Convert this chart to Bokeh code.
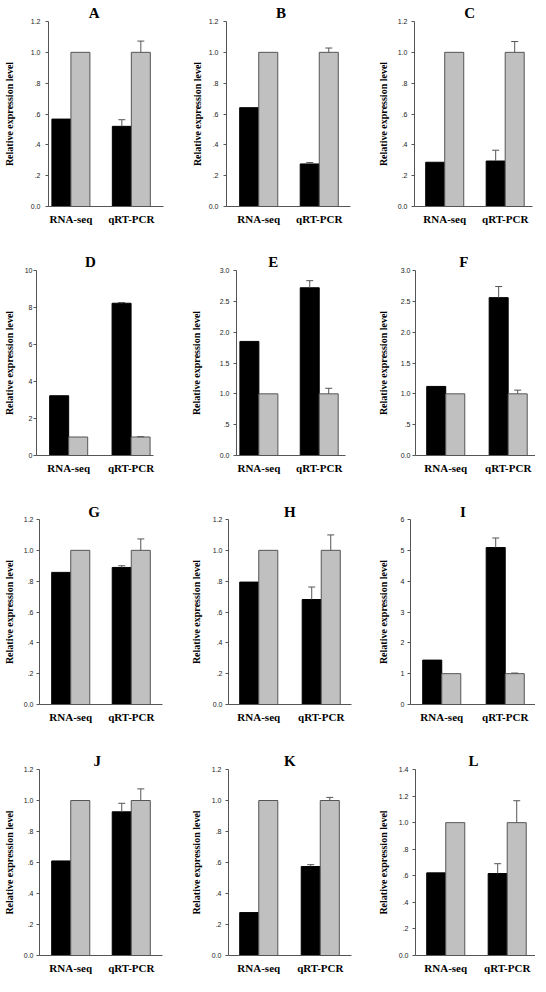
from bokeh.plotting import figure
from bokeh.layouts import column, row
from bokeh.models import FixedTicker, Title, ColumnDataSource, Range1d
from bokeh.transform import dodge
from bokeh.embed import file_html
from bokeh.resources import INLINE

# ---------------- data ----------------
categories = ["RNA-seq", "qRT-PCR"]
panel_labels = ["A", "B", "C", "D", "E", "F", "G", "H", "I", "J", "K", "L"]

rnaseq_black = [0.567, 0.641, 0.287, 3.23, 1.85, 1.12, 0.857, 0.794, 1.44, 0.610, 0.277, 0.622]
qrtpcr_black = [0.520, 0.276, 0.295, 8.23, 2.72, 2.56, 0.889, 0.681, 5.09, 0.927, 0.574, 0.617]
qrtpcr_black_err = [0.043, 0.009, 0.070, 0.04, 0.115, 0.18, 0.011, 0.081, 0.31, 0.055, 0.012, 0.074]

rnaseq_gray = [1.0, 1.0, 1.0, 1.0, 1.0, 1.0, 1.0, 1.0, 1.0, 1.0, 1.0, 1.0]
qrtpcr_gray = [1.0, 1.0, 1.0, 1.0, 1.0, 1.0, 1.0, 1.0, 1.0, 1.0, 1.0, 1.0]
qrtpcr_gray_err = [0.073, 0.028, 0.070, 0.02, 0.09, 0.06, 0.074, 0.10, 0.02, 0.075, 0.02, 0.165]

y_max = [1.2, 1.2, 1.2, 10, 3.0, 3.0, 1.2, 1.2, 6, 1.2, 1.2, 1.4]

ticks_12 = [0, 0.2, 0.4, 0.6, 0.8, 1.0, 1.2]
labels_12 = ["0.0", ".2", ".4", ".6", ".8", "1.0", "1.2"]
ticks_14 = [0, 0.2, 0.4, 0.6, 0.8, 1.0, 1.2, 1.4]
labels_14 = ["0.0", ".2", ".4", ".6", ".8", "1.0", "1.2", "1.4"]
ticks_10 = [0, 2, 4, 6, 8, 10]
labels_10 = ["0", "2", "4", "6", "8", "10"]
ticks_30 = [0, 0.5, 1.0, 1.5, 2.0, 2.5, 3.0]
labels_30 = ["0.0", ".5", "1.0", "1.5", "2.0", "2.5", "3.0"]
ticks_6 = [0, 1, 2, 3, 4, 5, 6]
labels_6 = ["0", "1", "2", "3", "4", "5", "6"]

y_axis_title = "Relative expression level"

# ---------------- layout (reference pixel geometry, per panel) ----------------
scales = [(ticks_12, labels_12)] * 3 + [(ticks_10, labels_10), (ticks_30, labels_30), (ticks_30, labels_30),
          (ticks_12, labels_12), (ticks_12, labels_12), (ticks_6, labels_6),
          (ticks_12, labels_12), (ticks_12, labels_12), (ticks_14, labels_14)]

# frame left, frame right, group centre 1, group centre 2, title centre x, tick-label right, axis-label centre
geom = [
    (45, 163, 68, 130, 92, 37, 7),
    (45, 172, 78, 140, 101, 37, 18),
    (56, 177, 87, 149, 113, 49, 27),
    (33, 153, 66, 130, 88, 29, 7),
    (55, 167, 78, 140, 93, 48, 17),
    (57, 180, 88, 152, 107, 52, 27),
    (36, 162, 68, 130, 92, 30, 7),
    (47, 173, 78, 142, 110, 41, 17),
    (52, 180, 84, 149, 106, 46, 27),
    (36, 162, 68, 130, 95, 30, 7),
    (47, 173, 78, 141, 110, 40, 17),
    (57, 180, 88, 151, 117, 50, 27),
]
row_tb = [(21, 209), (26, 214), (32, 220), (38, 227)]
title_standoff = [2, 1, 0, 2]
# approximate bold-serif letter widths (em) used to centre the panel letters
letter_em = {"A": .722, "B": .667, "C": .722, "D": .722, "E": .667, "F": .611,
             "G": .778, "H": .778, "I": .389, "J": .5, "K": .778, "L": .667}

SX, SY = 0.975, 0.984
col_w = [178, 177, 175]
row_h = 244
TICK_OUT = 3
TITLE_PX = 15


def text_w(s, size):
    w = {".": 0.278}
    return sum(w.get(ch, 0.556) for ch in s) * size


figs = []
for i, name in enumerate(panel_labels):
    r, c = divmod(i, 3)
    L, R, c1, c2, tcx, tickr, labx = geom[i]
    T, B = row_tb[r]
    Ll, Rl = round(L * SX), round(R * SX)
    Tl, Bl = round(T * SY), round(B * SY)
    unit = float(c2 - c1)
    x0, x1 = (L - c1) / unit, (R - c1) / unit
    bw = 19.5 / unit

    yt, yl = scales[i]
    p = figure(frame_width=Rl - Ll, frame_height=Bl - Tl,
               min_border_left=Ll, min_border_right=col_w[c] - Rl,
               min_border_top=Tl, min_border_bottom=row_h - Bl,
               x_range=Range1d(x0, x1), y_range=Range1d(0, y_max[i]),
               output_backend="svg", toolbar_location=None, title=None)

    src = ColumnDataSource(dict(
        x=[0, 1],
        black=[rnaseq_black[i], qrtpcr_black[i]],
        gray=[rnaseq_gray[i], qrtpcr_gray[i]],
    ))
    p.vbar(x=dodge("x", -bw / 2, range=p.x_range), top="black", width=bw, bottom=0,
           source=src, fill_color="#000000", line_color="#000000", line_width=1)
    p.vbar(x=dodge("x", bw / 2, range=p.x_range), top="gray", width=bw, bottom=0,
           source=src, fill_color="#c0c0c0", line_color="#555555", line_width=1)

    # error bars (qRT-PCR only)
    ex = [1 - bw / 2, 1 + bw / 2]
    ey0 = [qrtpcr_black[i], qrtpcr_gray[i]]
    ey1 = [qrtpcr_black[i] + qrtpcr_black_err[i], qrtpcr_gray[i] + qrtpcr_gray_err[i]]
    esrc = ColumnDataSource(dict(x=ex, y0=ey0, y1=ey1))
    p.segment(x0="x", y0="y0", x1="x", y1="y1", source=esrc, line_color="#555555", line_width=1)
    p.dash(x="x", y="y1", size=7, source=esrc, line_color="#555555", line_width=1)

    # panel letter as a title above the frame
    off = tcx * SX - Ll - letter_em[name] * TITLE_PX / 2
    p.add_layout(Title(text=name, align="left", offset=off, standoff=title_standoff[r],
                       vertical_align="bottom",
                       text_font="Liberation Serif", text_font_style="bold",
                       text_font_size=f"{TITLE_PX}px", text_color="#000000"), "above")

    # x axis
    xa = p.xaxis[0]
    xa.ticker = FixedTicker(ticks=[0, 1])
    xa.major_label_overrides = {0: categories[0], 1: categories[1]}
    xa.major_tick_out = 0
    xa.major_tick_in = 0
    xa.minor_tick_out = 0
    xa.minor_tick_in = 0
    xa.axis_line_color = "#555555"
    xa.major_label_text_font = "Liberation Serif"
    xa.major_label_text_font_style = "bold"
    xa.major_label_text_font_size = "11px"
    xa.major_label_text_color = "#000000"
    xa.major_label_standoff = 6

    # y axis
    ya = p.yaxis[0]
    ya.ticker = FixedTicker(ticks=yt)
    ya.major_label_overrides = {t: l for t, l in zip(yt, yl)}
    ya.major_tick_out = TICK_OUT
    ya.major_tick_in = 0
    ya.minor_tick_out = 0
    ya.minor_tick_in = 0
    ya.axis_line_color = "#555555"
    ya.major_tick_line_color = "#555555"
    ya.major_label_text_font = "Liberation Sans"
    ya.major_label_text_font_size = "7px"
    ya.major_label_text_color = "#222222"
    mls = max(0, round((L - tickr) * SX) - TICK_OUT)
    ya.major_label_standoff = mls
    tw = max(text_w(s, 7) for s in yl)
    als = max(0, round(Ll - TICK_OUT - mls - tw - labx * SX - 6))
    ya.axis_label = y_axis_title
    ya.axis_label_text_font = "Liberation Serif"
    ya.axis_label_text_font_style = "bold"
    ya.axis_label_text_font_size = "10px"
    ya.axis_label_text_color = "#000000"
    ya.axis_label_standoff = als

    p.xgrid.visible = False
    p.ygrid.visible = False
    p.outline_line_color = None
    p.background_fill_color = "#ffffff"
    p.border_fill_color = "#ffffff"
    figs.append(p)

layout = column(*[row(*figs[k * 3:(k + 1) * 3]) for k in range(4)])

with open("out.html", "w") as f:
    f.write(file_html(layout, INLINE, title="Relative expression level"))
